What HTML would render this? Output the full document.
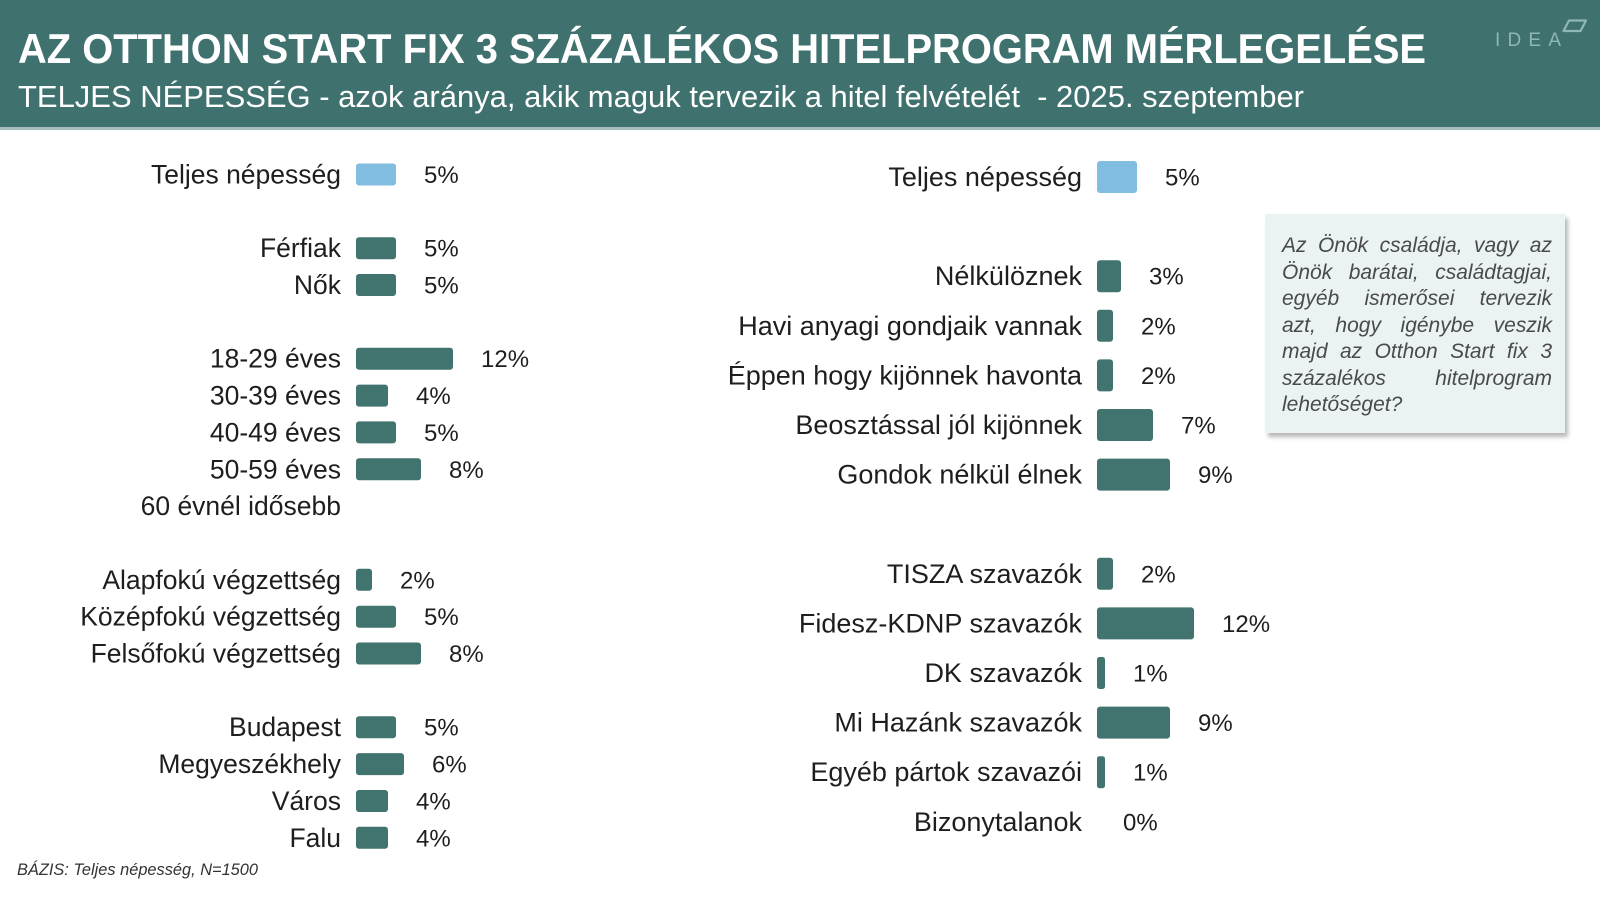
<!DOCTYPE html>
<html>
<head>
<meta charset="utf-8">
<style>
  html,body{margin:0;padding:0;background:#fff;}
  body{width:1600px;height:900px;overflow:hidden;position:relative;font-family:"Liberation Sans",Arial,sans-serif;}
  svg{position:absolute;left:0;top:0;}
  .lab{font-family:"Liberation Sans",Arial,sans-serif;font-size:26.5px;fill:#1e1e1e;text-anchor:end;}
  .labr{font-family:"Liberation Sans",Arial,sans-serif;font-size:27px;fill:#1e1e1e;text-anchor:end;}
  .val{font-family:"Liberation Sans",Arial,sans-serif;font-size:24px;fill:#1e1e1e;}
  .note{position:absolute;left:1265px;top:214px;width:300px;height:219px;background:#eaf2f3;box-shadow:3px 4px 4px rgba(0,0,0,0.28);}
  .note .ln{position:absolute;left:17px;width:270px;font-family:"Liberation Sans",Arial,sans-serif;font-style:italic;font-size:21px;color:#4a4a4a;white-space:nowrap;text-align:justify;text-align-last:justify;line-height:26px;}
  .note .ln.last{text-align:left;text-align-last:left;}
</style>
</head>
<body>
<svg width="1600" height="900" viewBox="0 0 1600 900" xmlns="http://www.w3.org/2000/svg">
  <!-- header -->
  <rect x="0" y="0" width="1600" height="127" fill="#3f716e"/>
  <rect x="0" y="127" width="1600" height="3" fill="#a6bfbd"/>
  <text x="18" y="63" font-family="Liberation Sans, Arial, sans-serif" font-weight="bold" font-size="42" fill="#ffffff" textLength="1408" lengthAdjust="spacingAndGlyphs">AZ OTTHON START FIX 3 SZÁZALÉKOS HITELPROGRAM MÉRLEGELÉSE</text>
  <text x="18" y="107" font-family="Liberation Sans, Arial, sans-serif" font-size="31" fill="#ffffff" textLength="1286" lengthAdjust="spacingAndGlyphs" style="white-space:pre">TELJES NÉPESSÉG - azok aránya, akik maguk tervezik a hitel felvételét  - 2025. szeptember</text>
  <!-- logo -->
  <text x="1495" y="46" font-family="Liberation Sans, Arial, sans-serif" font-size="19" fill="#8fb7b3" textLength="66" lengthAdjust="spacing">IDEA</text>
  <polygon points="1569,20.5 1586,20.5 1580.5,31 1563.5,31" fill="none" stroke="#8fb7b3" stroke-width="2.2" stroke-linejoin="round"/>

  <!-- LEFT CHART -->
  <g>
    <text class="lab" x="341" y="183.5">Teljes népesség</text>
    <rect x="356" y="163.5" width="40" height="22" rx="3" fill="#80bde0"/>
    <text class="val" x="424" y="183">5%</text>

    <text class="lab" x="341" y="257.2">Férfiak</text>
    <rect x="356" y="237.2" width="40" height="22" rx="3" fill="#41736f"/>
    <text class="val" x="424" y="256.7">5%</text>

    <text class="lab" x="341" y="294">Nők</text>
    <rect x="356" y="274" width="40" height="22" rx="3" fill="#41736f"/>
    <text class="val" x="424" y="293.5">5%</text>

    <text class="lab" x="341" y="367.7">18-29 éves</text>
    <rect x="356" y="347.7" width="97" height="22" rx="3" fill="#41736f"/>
    <text class="val" x="481" y="367.2">12%</text>

    <text class="lab" x="341" y="404.6">30-39 éves</text>
    <rect x="356" y="384.6" width="32" height="22" rx="3" fill="#41736f"/>
    <text class="val" x="416" y="404.1">4%</text>

    <text class="lab" x="341" y="441.4">40-49 éves</text>
    <rect x="356" y="421.4" width="40" height="22" rx="3" fill="#41736f"/>
    <text class="val" x="424" y="440.9">5%</text>

    <text class="lab" x="341" y="478.3">50-59 éves</text>
    <rect x="356" y="458.3" width="65" height="22" rx="3" fill="#41736f"/>
    <text class="val" x="449" y="477.8">8%</text>

    <text class="lab" x="341" y="515.1">60 évnél idősebb</text>

    <text class="lab" x="341" y="588.8">Alapfokú végzettség</text>
    <rect x="356" y="568.8" width="16" height="22" rx="3" fill="#41736f"/>
    <text class="val" x="400" y="588.3">2%</text>

    <text class="lab" x="341" y="625.7">Középfokú végzettség</text>
    <rect x="356" y="605.7" width="40" height="22" rx="3" fill="#41736f"/>
    <text class="val" x="424" y="625.2">5%</text>

    <text class="lab" x="341" y="662.5">Felsőfokú végzettség</text>
    <rect x="356" y="642.5" width="65" height="22" rx="3" fill="#41736f"/>
    <text class="val" x="449" y="662">8%</text>

    <text class="lab" x="341" y="736.2">Budapest</text>
    <rect x="356" y="716.2" width="40" height="22" rx="3" fill="#41736f"/>
    <text class="val" x="424" y="735.7">5%</text>

    <text class="lab" x="341" y="773.1">Megyeszékhely</text>
    <rect x="356" y="753.1" width="48" height="22" rx="3" fill="#41736f"/>
    <text class="val" x="432" y="772.6">6%</text>

    <text class="lab" x="341" y="810">Város</text>
    <rect x="356" y="790" width="32" height="22" rx="3" fill="#41736f"/>
    <text class="val" x="416" y="809.5">4%</text>

    <text class="lab" x="341" y="846.8">Falu</text>
    <rect x="356" y="826.8" width="32" height="22" rx="3" fill="#41736f"/>
    <text class="val" x="416" y="846.3">4%</text>
  </g>

  <!-- RIGHT CHART -->
  <g>
    <text class="labr" x="1082" y="186">Teljes népesség</text>
    <rect x="1097" y="161" width="40" height="32" rx="3" fill="#80bde0"/>
    <text class="val" x="1165" y="185.5">5%</text>

    <text class="labr" x="1082" y="285.2">Nélkülöznek</text>
    <rect x="1097" y="260.2" width="24" height="32" rx="3" fill="#41736f"/>
    <text class="val" x="1149" y="284.7">3%</text>

    <text class="labr" x="1082" y="334.8">Havi anyagi gondjaik vannak</text>
    <rect x="1097" y="309.8" width="16" height="32" rx="3" fill="#41736f"/>
    <text class="val" x="1141" y="334.3">2%</text>

    <text class="labr" x="1082" y="384.4">Éppen hogy kijönnek havonta</text>
    <rect x="1097" y="359.4" width="16" height="32" rx="3" fill="#41736f"/>
    <text class="val" x="1141" y="383.9">2%</text>

    <text class="labr" x="1082" y="434">Beosztással jól kijönnek</text>
    <rect x="1097" y="409" width="56" height="32" rx="3" fill="#41736f"/>
    <text class="val" x="1181" y="433.5">7%</text>

    <text class="labr" x="1082" y="483.6">Gondok nélkül élnek</text>
    <rect x="1097" y="458.6" width="73" height="32" rx="3" fill="#41736f"/>
    <text class="val" x="1198" y="483.1">9%</text>

    <text class="labr" x="1082" y="582.8">TISZA szavazók</text>
    <rect x="1097" y="557.8" width="16" height="32" rx="3" fill="#41736f"/>
    <text class="val" x="1141" y="582.3">2%</text>

    <text class="labr" x="1082" y="632.4">Fidesz-KDNP szavazók</text>
    <rect x="1097" y="607.4" width="97" height="32" rx="3" fill="#41736f"/>
    <text class="val" x="1222" y="631.9">12%</text>

    <text class="labr" x="1082" y="682">DK szavazók</text>
    <rect x="1097" y="657" width="8" height="32" rx="2.5" fill="#41736f"/>
    <text class="val" x="1133" y="681.5">1%</text>

    <text class="labr" x="1082" y="731.6">Mi Hazánk szavazók</text>
    <rect x="1097" y="706.6" width="73" height="32" rx="3" fill="#41736f"/>
    <text class="val" x="1198" y="731.1">9%</text>

    <text class="labr" x="1082" y="781.2">Egyéb pártok szavazói</text>
    <rect x="1097" y="756.2" width="8" height="32" rx="2.5" fill="#41736f"/>
    <text class="val" x="1133" y="780.7">1%</text>

    <text class="labr" x="1082" y="830.8">Bizonytalanok</text>
    <text class="val" x="1123" y="830.3">0%</text>
  </g>

  <!-- footnote -->
  <text x="17" y="875" font-family="Liberation Sans, Arial, sans-serif" font-style="italic" font-size="16.5" fill="#333333" textLength="241" lengthAdjust="spacingAndGlyphs">BÁZIS: Teljes népesség, N=1500</text>
</svg>

<div class="note">
  <div class="ln" style="top:19px">Az Önök családja, vagy az</div>
  <div class="ln" style="top:45.5px">Önök barátai, családtagjai,</div>
  <div class="ln" style="top:72px">egyéb ismerősei tervezik</div>
  <div class="ln" style="top:98.5px">azt, hogy igénybe veszik</div>
  <div class="ln" style="top:125px">majd az Otthon Start fix 3</div>
  <div class="ln" style="top:151.5px">százalékos hitelprogram</div>
  <div class="ln last" style="top:178px">lehetőséget?</div>
</div>
</body>
</html>
